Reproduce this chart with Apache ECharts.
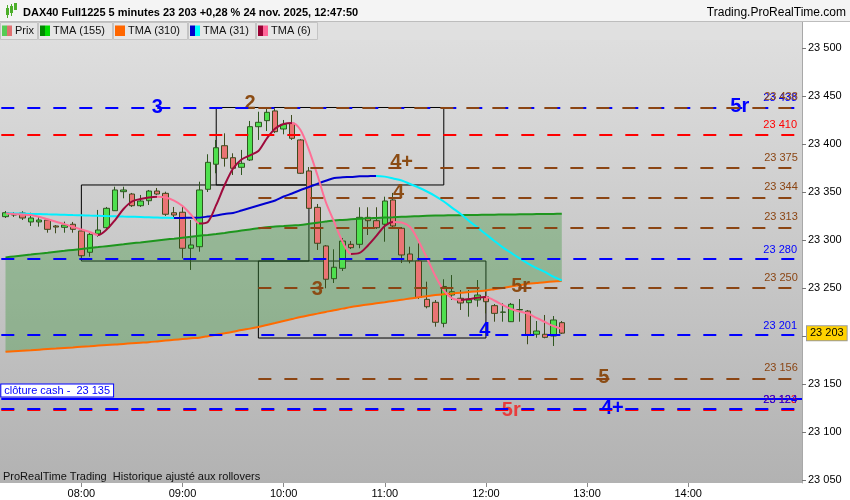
<!DOCTYPE html>
<html><head><meta charset="utf-8">
<script src="https://cdn.jsdelivr.net/npm/echarts@6/dist/echarts.min.js"></script>
<style>html,body{margin:0;padding:0;background:#fff}#c{width:850px;height:500px}</style>
</head><body><div id="c"></div>
<script>
// ---------- DATA ----------
const categories = ["07:15","07:20","07:25","07:30","07:35","07:40","07:45","07:50","07:55",
"08:00","08:05","08:10","08:15","08:20","08:25","08:30","08:35","08:40","08:45","08:50","08:55",
"09:00","09:05","09:10","09:15","09:20","09:25","09:30","09:35","09:40","09:45","09:50","09:55",
"10:00","10:05","10:10","10:15","10:20","10:25","10:30","10:35","10:40","10:45","10:50","10:55",
"11:00","11:05","11:10","11:15","11:20","11:25","11:30","11:35","11:40","11:45","11:50","11:55",
"12:00","12:05","12:10","12:15","12:20","12:25","12:30","12:35","12:40","12:45","12:50","12:55",
"13:00","13:05","13:10","13:15","13:20","13:25","13:30","13:35","13:40","13:45","13:50","13:55",
"14:00","14:05","14:10","14:15","14:20","14:25","14:30","14:35","14:40","14:45","14:50","14:55",
"15:00","15:05"];
const xTickLabels = ["08:00","09:00","10:00","11:00","12:00","13:00","14:00"];

const candleOpen  = [23324.3,23327,23328.1,23318.8,23318.8,23320.8,23314.6,23313.2,23316.4,23309.4,23287.2,23306.3,23312.8,23330.5,23350.3,23347.9,23335.7,23340.9,23351,23348.6,23328.4,23328.9,23291.4,23293,23352.8,23378.9,23398.2,23385.7,23375.7,23383.3,23418,23424.3,23434.4,23415.6,23421.6,23404.2,23371.9,23334,23293.8,23259.7,23270.5,23295.5,23295.5,23323.6,23320.1,23316.4,23341.7,23312.2,23285.4,23278.1,23238.2,23235.1,23213.2,23242.7,23239.3,23234.7,23237.5,23240.9,23231.6,23224.7,23214.9,23227.1,23226,23201.8,23201.8,23200,23213.9];
const candleClose = [23328.4,23326,23322.9,23322.9,23320.8,23311.1,23313.5,23315.6,23311.1,23283.6,23305.9,23310.4,23333,23352.1,23352.1,23335.7,23340.6,23351,23347.9,23326.8,23326,23291.4,23294.8,23352.1,23380.9,23396.1,23385.1,23374.7,23379.9,23418,23422.6,23433,23412.8,23420.5,23405.9,23369.5,23333,23296.6,23259.1,23271.6,23298.9,23292,23323.6,23320.1,23312.8,23340.6,23314.6,23284.4,23278.4,23240.1,23230.5,23214.3,23251.6,23246.1,23234.4,23237.5,23242.7,23235.7,23223.6,23225,23233,23227.6,23201,23205.2,23198.6,23216.7,23203];
const candleLow   = [23322.9,23324,23320.8,23314.6,23313.9,23307.6,23307,23307.6,23307.6,23280.9,23282.6,23303.4,23311.5,23330.2,23343.4,23334.4,23334.4,23336.5,23346.9,23325,23322.9,23280.9,23268.8,23287.8,23350,23369.5,23376.4,23367.7,23367.7,23382.3,23404.2,23413.5,23411.5,23410.1,23404.2,23368.8,23332.3,23289.6,23249.7,23255.2,23267.7,23290.6,23291.4,23305.2,23311.5,23298.2,23313.5,23276,23275.7,23238.5,23228.8,23209.7,23209.1,23237.5,23227.1,23220.1,23230.5,23223.6,23214.9,23214.9,23214.6,23214.9,23191.4,23198.2,23197.6,23189.6,23202.1];
const candleHigh  = [23330.2,23329,23330,23328.4,23324.3,23321.9,23315.6,23319.1,23318.8,23311.5,23308.3,23331.3,23334.4,23355.5,23355.5,23349,23346.9,23352.1,23354.2,23350.3,23334.4,23334.7,23320.8,23360.7,23389.3,23404.2,23411.1,23390.3,23393.8,23424,23433.6,23437.2,23437.2,23425,23430.2,23405.2,23376,23337.5,23294.8,23290.3,23302.1,23298.9,23334.1,23334.1,23334.1,23345.1,23349,23313.5,23293,23296.6,23256.6,23237.5,23259.1,23263.5,23247.9,23247.9,23258.3,23247.9,23233.3,23234.1,23234.4,23238.5,23227.1,23215.6,23221.9,23220.8,23215.6];

const tma155 = [23281.9,23282.9,23283.9,23284.8,23285.8,23286.8,23287.8,23288.7,23289.7,23290.7,23291.7,23292.6,23293.6,23294.6,23295.6,23296.6,23297.5,23298.5,23299.5,23300.5,23301.4,23302.4,23303.4,23304.4,23305.3,23306.3,23307.4,23308.6,23309.8,23311.0,23312.2,23313.4,23314.0,23314.5,23315.1,23315.6,23316.8,23318.0,23319.2,23320.3,23320.9,23321.5,23322.0,23322.6,23323.0,23323.4,23323.7,23324.1,23324.5,23324.8,23325.2,23325.5,23325.6,23325.8,23325.9,23326.0,23326.1,23326.3,23326.4,23326.5,23326.6,23326.7,23326.8,23327.0,23327.1,23327.2,23327.3];
const tma310 = [23183.6,23184.2,23184.7,23185.2,23185.8,23186.4,23186.9,23187.5,23188.1,23188.8,23189.4,23190.0,23190.6,23191.1,23191.8,23192.4,23193.0,23193.6,23194.4,23195.2,23196.0,23196.8,23197.6,23198.3,23199.8,23201.4,23202.9,23204.5,23206.3,23207.7,23209.4,23211.5,23213.5,23215.6,23217.7,23219.8,23221.6,23223.3,23225.1,23226.9,23228.5,23230.3,23231.6,23232.8,23234.0,23235.2,23236.5,23237.7,23239.1,23240.3,23241.5,23242.6,23243.5,23244.3,23245.1,23245.8,23246.7,23247.5,23248.8,23250.1,23251.5,23252.9,23254.3,23255.2,23256.1,23256.8,23257.3];
const tma31 = [23327.9,23327.7,23327.5,23327.2,23327.0,23326.7,23326.5,23326.3,23326.0,23325.7,23325.4,23325.2,23324.9,23324.7,23324.4,23324.2,23324.0,23323.6,23323.4,23323.1,23322.9,23323.0,23323.1,23323.3,23324.4,23325.6,23327.1,23328.1,23330.7,23333.3,23335.9,23338.5,23341.1,23345.3,23348.4,23352.1,23355.2,23358.5,23361.7,23364.6,23365.3,23365.7,23366.3,23366.5,23366.7,23366.0,23364.1,23362.0,23358.3,23354.7,23350.5,23345.8,23340.1,23333.5,23327.1,23319.8,23312.9,23305.9,23299.0,23292.3,23286.5,23280.8,23275.5,23270.8,23266.7,23261.8,23257.8];
const tma6 = [23327.6,23327.0,23326.5,23326.0,23324.2,23321.6,23319.0,23316.5,23313.7,23311.0,23308.3,23305.2,23310.9,23320.8,23332.3,23340.1,23342.7,23344.3,23345.0,23344.3,23341.1,23335.4,23326.6,23317.2,23318.8,23336.5,23357.3,23374.5,23383.9,23388.2,23392.7,23405.7,23416.2,23420.8,23421.9,23414.6,23393.8,23367.7,23339.6,23318.8,23297.9,23285.5,23286.5,23294.3,23304.2,23314.6,23318.8,23318.2,23313.5,23299.0,23281.3,23262.5,23247.6,23239.1,23237.5,23238.5,23239.9,23240.6,23237.0,23232.3,23228.1,23225.5,23223.4,23218.8,23214.6,23210.4,23207.3];

const blueLevels  = [23438, 23280, 23201];
const redLevels   = [23410, 23123];
const blue2Levels = [23124];
const brownLevels = [23438, 23375, 23344, 23313, 23250, 23156];
const brownStart  = "09:45";
const cashClose   = 23135;
const lastPrice   = 23203;

const tagText  = ["3","2","4+","4","3","5r","5r","4","5","5r","4+"];
const tagTime  = ["08:45","09:40","11:10","11:10","10:20","12:20","14:30","12:00","13:10","12:15","13:15"];
const tagPrice = [23438,23438,23375,23344,23250,23250,23438,23201,23156,23123,23124];
const tagKind  = ["blue","brown","brown","brown","brown","brown","blue","blue","brown","red","blue"];

const boxStart = ["08:00","09:20","09:45"];
const boxEnd   = ["10:15","11:35","12:00"];
const boxTop   = [23357.3,23438.0,23278.1];
const boxBottom= [23278.1,23357.3,23197.9];

const legendNames = ["Prix","TMA (155)","TMA (310)","TMA (31)","TMA (6)"];
const title = "DAX40 Full1225 5 minutes 23 203 +0,28 % 24 nov. 2025, 12:47:50";

// ---------- STYLE ----------
const FONT = '"Liberation Sans", Arial, sans-serif';
const C = {blue:'#0000ff', red:'#ff0000', brown:'#8b4513', redTag:'#e83c3c', brownTag:'#8b4c14'};
const fmt = v => { const s = String(Math.round(v)); return s.slice(0, s.length-3) + ' ' + s.slice(-3); };
const idx = t => categories.indexOf(t);
const lastIdx = categories.length - 1;
const isTick = (i, v) => xTickLabels.indexOf(v) >= 0;

function slopePieces(arr, up, down){
  const pieces = []; let start = 0; let dir = arr[1] >= arr[0];
  for (let i = 1; i < arr.length; i++){
    const d = arr[i] >= arr[i-1];
    if (d !== dir){ pieces.push({min:start, max:i-1, color: dir?up:down}); start = i-1; dir = d; }
  }
  pieces.push({min:start, max:arr.length-1, color: dir?up:down});
  return pieces;
}
const pairs = arr => arr.map((v,i)=>[i,v]);

// markLines
const dash = [13,13];
const ml = [];
blueLevels.forEach(v => ml.push({yAxis:v, lineStyle:{color:C.blue,type:dash,width:2}, label:{formatter:fmt(v), color:C.blue}}));
redLevels.forEach(v => ml.push({yAxis:v, lineStyle:{color:C.red,type:dash,width:2}, label:{formatter:fmt(v), color:C.red}}));
blue2Levels.forEach(v => ml.push({yAxis:v, lineStyle:{color:C.blue,type:dash,width:2}, label:{formatter:fmt(v), color:C.blue}}));
brownLevels.forEach(v => ml.push([{coord:[idx(brownStart), v], lineStyle:{color:C.brown,type:dash,width:2}, label:{formatter:fmt(v), color:C.brown, distance:[0,5]}}, {coord:[lastIdx, v]}]));
ml.push({yAxis:cashClose, lineStyle:{color:C.blue,type:'solid',width:2},
  label:{position:'insideStartTop', formatter:'clôture cash -  ' + fmt(cashClose), color:C.blue, backgroundColor:'#fff',
    borderColor:C.blue, borderWidth:1, padding:[1,3,0,3], distance:[0,2]}});
ml.push({yAxis:lastPrice, lineStyle:{color:'rgba(0,0,0,0)',width:1,type:'solid'},
  label:{show:true, position:'end', formatter:fmt(lastPrice), color:'#000', backgroundColor:'#ffd200', borderColor:'#9a9a9a', borderWidth:1, padding:[2,3,1,3], distance:5, fontSize:11}});

const tagOffsets = [[0,0],[0,-4],[0,-5],[-3,-5],[0,1.5],[1,-1.5],[1,-1.5],[-1,-4.5],[0,-0.5],[0,1],[0,0]];
const tagColor = {blue:C.blue, brown:C.brownTag, red:C.redTag};
const tagData = tagText.map((t,i)=>({value:[idx(tagTime[i]), tagPrice[i]],
  label:{formatter:t, color:tagColor[tagKind[i]], offset:tagOffsets[i]}}));

const boxData = boxStart.map((s,i)=>[{coord:[idx(s), boxTop[i]]},{coord:[idx(boxEnd[i]), boxBottom[i]]}]);

// header graphics
const legendBoxes = [[0,37],[38,112],[113,187],[188,255],[256,317]];
const legendSw = [['#55cc55','#e07070'],['#008a00','#00dd00'],['#ff6600','#ff6600'],['#0000cc','#00ffff'],['#990033','#ff6699']];
const g = [
  {type:'rect', silent:true, z:-10, shape:{x:0,y:40,width:802,height:443},
   style:{fill:new echarts.graphic.LinearGradient(0,0,0,1,[{offset:0,color:'#dedede'},{offset:1,color:'#b2b2b2'}])}},
  {type:'rect', silent:true, shape:{x:0,y:0,width:850,height:21}, style:{fill:'#f4f4f4'}},
  {type:'line', silent:true, shape:{x1:0,y1:21.5,x2:850,y2:21.5}, style:{stroke:'#bdbdbd',lineWidth:1}},
  {type:'rect', silent:true, shape:{x:0,y:22,width:802,height:18}, style:{fill:'#e0e0e0'}},
  {type:'line', silent:true, shape:{x1:802.5,y1:22,x2:802.5,y2:40}, style:{stroke:'#a8a8a8',lineWidth:1}},
  {type:'rect', silent:true, shape:{x:6,y:8,width:3,height:7}, style:{fill:'#4caf2a'}},
  {type:'rect', silent:true, shape:{x:7,y:5,width:1,height:13}, style:{fill:'#4caf2a'}},
  {type:'rect', silent:true, shape:{x:10,y:6,width:3,height:7}, style:{fill:'#4caf2a'}},
  {type:'rect', silent:true, shape:{x:11,y:4,width:1,height:12}, style:{fill:'#4caf2a'}},
  {type:'rect', silent:true, shape:{x:14,y:3,width:3,height:7}, style:{fill:'#4caf2a'}},
  {type:'text', silent:true, style:{x:23,y:13,text:title,font:'bold 11px '+FONT,fill:'#000',verticalAlign:'middle',textVerticalAlign:'middle'}},
  {type:'text', silent:true, style:{x:846,y:13,text:'Trading.ProRealTime.com',font:'12px '+FONT,fill:'#000',align:'right',textAlign:'right',verticalAlign:'middle',textVerticalAlign:'middle'}},
  {type:'text', silent:true, z:100, style:{x:3,y:477,text:'ProRealTime Trading  Historique ajusté aux rollovers',font:'11px '+FONT,fill:'#111',verticalAlign:'middle',textVerticalAlign:'middle'}}
];
legendBoxes.forEach((b,i)=>{
  g.push({type:'rect', silent:true, shape:{x:b[0]+0.5,y:22.5,width:b[1]-b[0],height:17}, style:{fill:'#e6e6e6',stroke:'#c4c4c4',lineWidth:1}});
  const sx = b[0]+2;
  if (legendSw[i][0] === legendSw[i][1]) {
    g.push({type:'rect', silent:true, shape:{x:sx,y:25.5,width:10,height:10.5}, style:{fill:legendSw[i][0]}});
  } else {
    g.push({type:'rect', silent:true, shape:{x:sx,y:25.5,width:5,height:10.5}, style:{fill:legendSw[i][0]}});
    g.push({type:'rect', silent:true, shape:{x:sx+5,y:25.5,width:5,height:10.5}, style:{fill:legendSw[i][1]}});
  }
  g.push({type:'text', silent:true, style:{x:sx+13,y:31,text:legendNames[i],font:'11px '+FONT,fill:'#111',verticalAlign:'middle',textVerticalAlign:'middle'}});
});

const option = {
  animation:false,
  backgroundColor:'#fff',
  textStyle:{fontFamily:FONT},
  grid:{left:1.3, right:48, top:40, bottom:17, containLabel:false, outerBoundsMode:'none'},
  xAxis:{type:'category', data:categories, boundaryGap:true,
    axisLine:{show:true, lineStyle:{color:'rgba(0,0,0,0)'}},
    axisTick:{show:true, alignWithLabel:true, length:4, interval:isTick, lineStyle:{color:'#888'}},
    axisLabel:{interval:isTick, fontSize:11, color:'#000', margin:5},
    splitLine:{show:false}},
  yAxis:{type:'value', position:'right', min:23046.9, max:23508.3, splitNumber:9,
    splitLine:{show:false},
    axisLine:{show:true, lineStyle:{color:'#a8a8a8'}},
    axisTick:{show:true, length:4, lineStyle:{color:'#777'}},
    axisLabel:{fontSize:11, color:'#000', margin:6, showMinLabel:false, showMaxLabel:false,
      formatter:v => (Math.abs(v/50 - Math.round(v/50)) < 1e-6 ? fmt(v) : '')}},
  visualMap:[
    {type:'piecewise', show:false, seriesIndex:4, dimension:0, pieces:slopePieces(tma31,'#0000d0','#00f0ff')},
    {type:'piecewise', show:false, seriesIndex:5, dimension:0, pieces:slopePieces(tma6,'#9e0a3c','#ff6f96')}
  ],
  graphic:g,
  series:[
    {type:'custom', name:'band', z:1, silent:true, data:pairs(tma155),
     renderItem:function(params, api){
       if (params.dataIndex !== 0) return null;
       const pts = [];
       for (let i=0;i<tma155.length;i++) pts.push(api.coord([i, tma155[i]]));
       for (let i=tma310.length-1;i>=0;i--) pts.push(api.coord([i, tma310[i]]));
       return {type:'polygon', shape:{points:pts}, style:{fill:'rgba(60,150,60,0.37)'}};
     }},
    {type:'candlestick', name:'Prix', z:2, barWidth:6,
     data:candleOpen.map((o,i)=>[o, candleClose[i], candleLow[i], candleHigh[i]]),
     itemStyle:{color:'#4ee04e', color0:'#ea7474', borderColor:'#2e5620', borderColor0:'#3d4a1c', borderWidth:1}},
    {type:'line', name:'TMA (155)', z:3, data:pairs(tma155), symbol:'none', smooth:0.3, lineStyle:{color:'#1e961e', width:2}},
    {type:'line', name:'TMA (310)', z:3, data:pairs(tma310), symbol:'none', smooth:0.3, lineStyle:{color:'#ff6a00', width:2}},
    {type:'line', name:'TMA (31)', z:3, data:pairs(tma31), symbol:'none', smooth:0.3, lineStyle:{width:2}},
    {type:'line', name:'TMA (6)', z:3, data:pairs(tma6), symbol:'none', smooth:0.3, lineStyle:{width:2}},
    {type:'scatter', name:'tags', z:4, symbolSize:1, itemStyle:{color:'rgba(0,0,0,0)', opacity:1}, silent:true,
     data:tagData,
     label:{show:true, position:'inside', fontSize:20, fontWeight:'bold', fontFamily:FONT, opacity:1},
     markLine:{silent:true, symbol:['none','none'], animation:false, precision:0,
       label:{show:true, position:'insideEndTop', fontSize:11, distance:[5,4]}, data:ml},
     markArea:{silent:true, itemStyle:{color:'rgba(0,0,0,0)', borderColor:'#000', borderWidth:1}, data:boxData}}
  ]
};
const chart = echarts.init(document.getElementById('c'));
chart.setOption(option);
</script>
</body></html>
